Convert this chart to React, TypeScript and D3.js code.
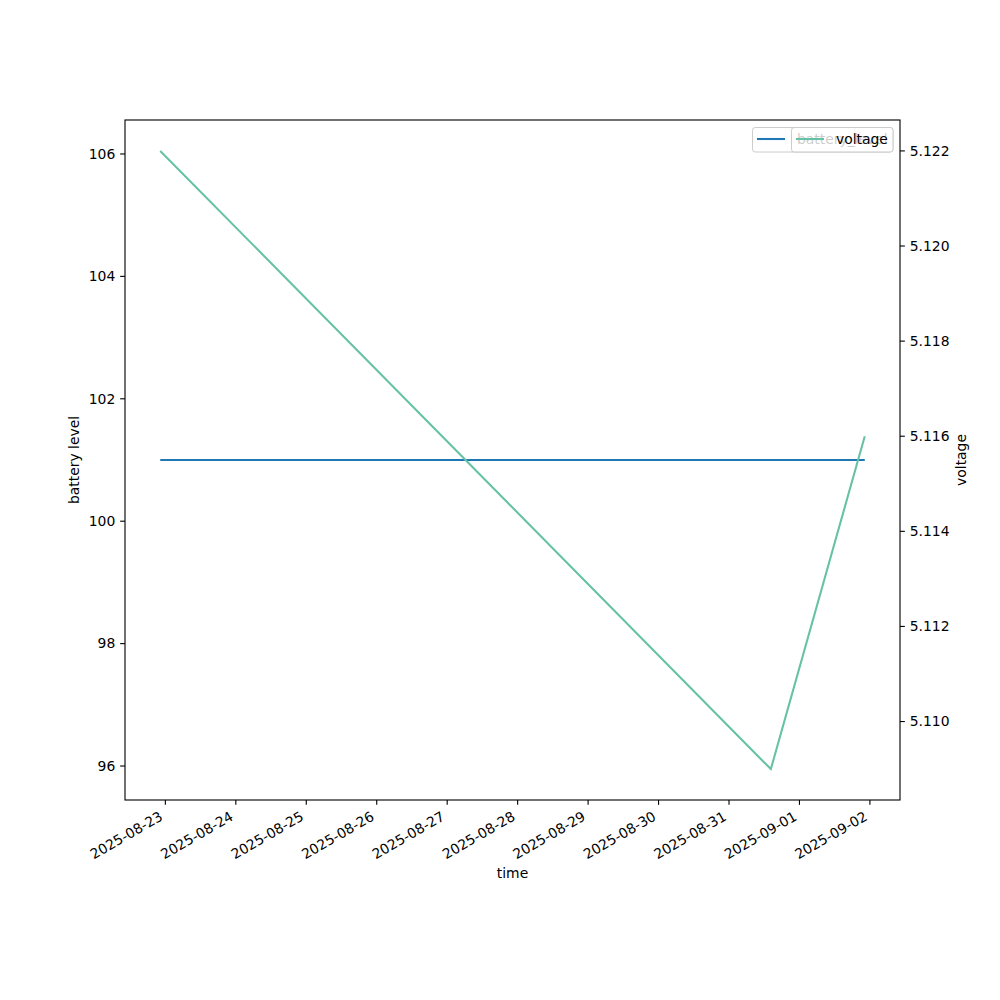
import React from "react";
import * as d3 from "d3";

const times = ["2025-08-22T22:15", "2025-08-31T14:15", "2025-09-01T22:15"];
const batteryLevel = [101, 101, 101];
const voltage = [5.122, 5.109, 5.116];
const xTickLabels = ["2025-08-23", "2025-08-24", "2025-08-25", "2025-08-26", "2025-08-27", "2025-08-28", "2025-08-29", "2025-08-30", "2025-08-31", "2025-09-01", "2025-09-02"];
const leftTicks = [96, 98, 100, 102, 104, 106];
const rightTicks = [5.110, 5.112, 5.114, 5.116, 5.118, 5.120, 5.122];

const parse = d3.utcParse("%Y-%m-%dT%H:%M");
const parseDay = d3.utcParse("%Y-%m-%d");

export default function App() {
  const W = 1000, H = 1000;
  const L = 125, R = 900, T = 120, B = 800;
  const fs = 13.9;
  const font = "DejaVu Sans, sans-serif";
  const dates = times.map((t) => parse(t)!);
  const t0 = +dates[0], t1 = +dates[dates.length - 1];
  const pad = (t1 - t0) * 0.05;
  const x = d3.scaleUtc().domain([new Date(t0 - pad), new Date(t1 + pad)]).range([L, R]);

  const bMin = d3.min(batteryLevel)!, bMax = d3.max(batteryLevel)!;
  let lo = bMin, hi = bMax;
  if (lo === hi) { lo = lo - Math.abs(lo) * 0.05; hi = hi + Math.abs(hi) * 0.05; }
  const bm = (hi - lo) * 0.05;
  const yL = d3.scaleLinear().domain([lo - bm, hi + bm]).range([B, T]);

  const vMin = d3.min(voltage)!, vMax = d3.max(voltage)!;
  const vm = (vMax - vMin) * 0.05;
  const yR = d3.scaleLinear().domain([vMin - vm, vMax + vm]).range([B, T]);

  const lineB = d3.line<number>().x((_, i) => x(dates[i])).y((d) => yL(d));
  const lineV = d3.line<number>().x((_, i) => x(dates[i])).y((d) => yR(d));

  const tl = 4.86, tp = 4.86;

  return (
    <svg width={W} height={H} style={{ display: "block", position: "absolute", left: 0, top: 0 }} fontFamily={font} fontSize={fs}>
      <rect x={0} y={0} width={W} height={H} fill="white" />
      <path d={lineB(batteryLevel)!} fill="none" stroke="#1f77b4" strokeWidth={2.08} />
      {/* first legend */}
      <g>
        <rect x={752.5} y={127.5} width={140.5} height={24.5} rx={2.8} fill="white" fillOpacity={0.8} stroke="#cccccc" strokeWidth={1} />
        <line x1={757} x2={785} y1={139} y2={139} stroke="#1f77b4" strokeWidth={2.08} />
        <text x={797} y={144}>battery_level</text>
      </g>
      <path d={lineV(voltage)!} fill="none" stroke="#66c2a5" strokeWidth={2.08} />
      {/* second legend */}
      <g>
        <rect x={791.5} y={127.5} width={101.5} height={24.5} rx={2.8} fill="white" fillOpacity={0.8} stroke="#cccccc" strokeWidth={1} />
        <line x1={796} x2={824} y1={139} y2={139} stroke="#66c2a5" strokeWidth={2.08} />
        <text x={836} y={144}>voltage</text>
      </g>
      {/* frame */}
      <rect x={L} y={T} width={R - L} height={B - T} fill="none" stroke="black" strokeWidth={1.11} />
      {/* x ticks */}
      {xTickLabels.map((s) => {
        const xv = x(parseDay(s)!);
        return (
          <g key={s}>
            <line x1={xv} x2={xv} y1={B} y2={B + tl} stroke="black" strokeWidth={1.11} />
            <text transform={`translate(${xv - 1.6},${B + tl + tp + 9.5}) rotate(-30)`} textAnchor="end">{s}</text>
          </g>
        );
      })}
      {leftTicks.map((v) => (
        <g key={v}>
          <line x1={L - tl} x2={L} y1={yL(v)} y2={yL(v)} stroke="black" strokeWidth={1.11} />
          <text x={L - tl - tp} y={yL(v)} dy="0.35em" textAnchor="end">{v}</text>
        </g>
      ))}
      {rightTicks.map((v) => (
        <g key={v}>
          <line x1={R} x2={R + tl} y1={yR(v)} y2={yR(v)} stroke="black" strokeWidth={1.11} />
          <text x={R + tl + tp} y={yR(v)} dy="0.35em">{v.toFixed(3)}</text>
        </g>
      ))}
      <text x={(L + R) / 2} y={878} textAnchor="middle">time</text>
      <text transform={`translate(79,${(T + B) / 2}) rotate(-90)`} textAnchor="middle">battery level</text>
      <text transform={`translate(966,${(T + B) / 2}) rotate(-90)`} textAnchor="middle">voltage</text>
    </svg>
  );
}
